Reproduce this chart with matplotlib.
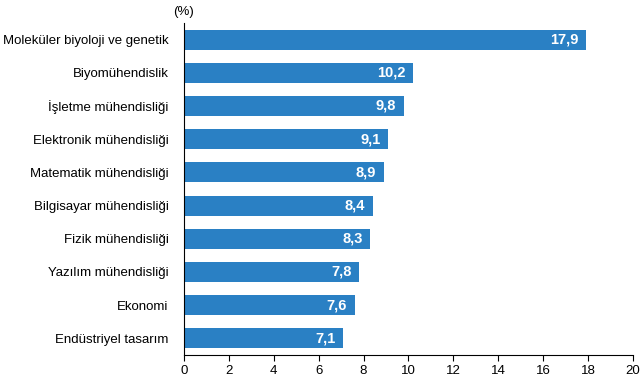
import numpy as np
import matplotlib.pyplot as plt

plt.rcParams['font.family'] = ['Liberation Sans', 'DejaVu Sans']

fields = ['Moleküler biyoloji ve genetik', 'Biyomühendislik', 'İşletme mühendisliği',
          'Elektronik mühendisliği', 'Matematik mühendisliği', 'Bilgisayar mühendisliği',
          'Fizik mühendisliği', 'Yazılım mühendisliği', 'Ekonomi', 'Endüstriyel tasarım']
values = [17.9, 10.2, 9.8, 9.1, 8.9, 8.4, 8.3, 7.8, 7.6, 7.1]

fig = plt.figure(figsize=(6.44, 3.8), dpi=100)
ax = fig.add_axes([0.2857, 0.066, 0.697, 0.8735])

y = np.arange(len(fields))
ax.barh(y, values, height=0.6, color='#2A80C4')
for yi, v in zip(y, values):
    ax.annotate(f'{v:.1f}'.replace('.', ','), (v, yi), xytext=(-5.5, 0),
                textcoords='offset points', ha='right', va='center',
                color='white', fontweight='bold', fontsize=10.5)

ax.set_ylim(len(fields) - 0.5, -0.5)
ax.set_xlim(0, 20)
ax.set_xticks(range(0, 21, 2))
ax.set_yticks(y)
ax.set_yticklabels(fields, fontsize=9.5)
ax.tick_params(axis='y', length=0, pad=11)
ax.tick_params(axis='x', length=4, labelsize=9.5, direction='out', pad=3)
for s in ['top', 'right']:
    ax.spines[s].set_visible(False)
ax.text(0, 1.015, '(%)', transform=ax.transAxes, ha='center', va='bottom', fontsize=9.5)

fig.savefig('out.png', dpi=100)
